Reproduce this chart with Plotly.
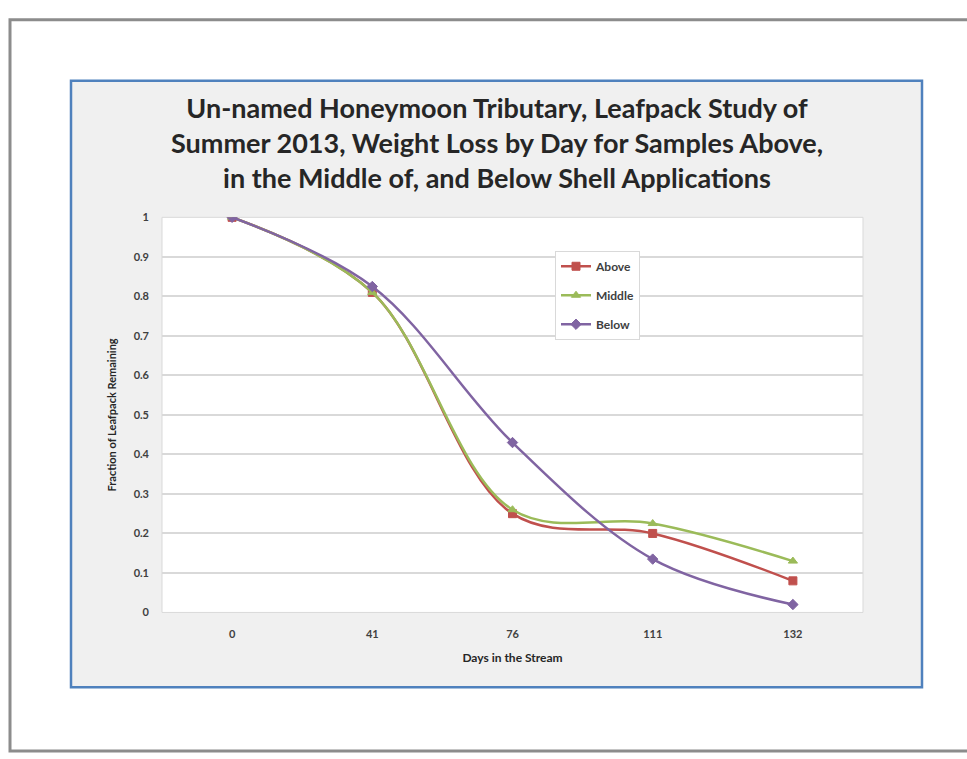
import plotly.graph_objects as go

days = ["0", "41", "76", "111", "132"]
above = [1.0, 0.81, 0.25, 0.20, 0.08]
middle = [1.0, 0.81, 0.26, 0.225, 0.13]
below = [1.0, 0.825, 0.43, 0.135, 0.02]
series_names = ["Above", "Middle", "Below"]
y_ticks = [0, 0.1, 0.2, 0.3, 0.4, 0.5, 0.6, 0.7, 0.8, 0.9, 1]
y_ticktext = ["0", "0.1", "0.2", "0.3", "0.4", "0.5", "0.6", "0.7", "0.8", "0.9", "1"]

W, H = 967, 759
FONT = "Lato"

def px(x):
    return x / W

def py(y):
    return 1 - y / H

colors = ["#C0504D", "#9BBB59", "#8064A2"]
symbols = ["square", "triangle-up", "diamond"]

fig = go.Figure()
for name, vals, c, s in zip(series_names, [above, middle, below], colors, symbols):
    fig.add_trace(go.Scatter(
        x=days, y=vals, name=name, mode="lines+markers",
        line=dict(color=c, width=2.5, shape="spline", smoothing=1.0),
        marker=dict(symbol=s, size=8, color=c, line=dict(color=c, width=1)),
        legendgroup=name,
    ))

shapes = [
    # outer gray frame
    dict(type="rect", xref="paper", yref="paper", x0=px(10), x1=px(970), y0=py(757), y1=py(13),
         line=dict(color="#8c8c8c", width=3), fillcolor="rgba(0,0,0,0)", layer="below"),
    # blue chart panel
    dict(type="rect", xref="paper", yref="paper", x0=px(71), x1=px(922), y0=py(692), y1=py(75),
         line=dict(color="#4F81BD", width=2.5), fillcolor="#F0F0F0", layer="below"),
    # plot area
    dict(type="rect", xref="paper", yref="paper", x0=px(162), x1=px(863), y0=py(616), y1=py(214),
         line=dict(color="#D9D9D9", width=1), fillcolor="#FFFFFF", layer="below"),
]

fig.update_layout(
    width=W, height=H,
    margin=dict(l=0, r=0, t=0, b=0),
    paper_bgcolor="#FFFFFF",
    plot_bgcolor="rgba(0,0,0,0)",
    shapes=shapes,
    showlegend=True,
    legend=dict(
        x=px(555), y=py(248), xanchor="left", yanchor="top",
        bgcolor="#FFFFFF", bordercolor="#D9D9D9", borderwidth=1,
        font=dict(family=FONT, size=12, color="#404040", weight="bold"),
        tracegroupgap=10, itemwidth=30,
    ),
    xaxis=dict(
        domain=[px(162), px(863)], type="category", range=[-0.5, 4.5],
        showgrid=False, zeroline=False, showline=False, ticks="",
        tickfont=dict(family=FONT, size=11, color="#404040", weight="bold"),
        ticklabelstandoff=14,
        title=dict(text="Days in the Stream", font=dict(family=FONT, size=12, color="#262626", weight="bold"),
                   standoff=14),
    ),
    yaxis=dict(
        domain=[py(616), py(214)], range=[0, 1],
        tickvals=y_ticks, ticktext=y_ticktext,
        showgrid=True, gridcolor="#D9D9D9", gridwidth=2,
        zeroline=False, showline=False, ticks="",
        tickfont=dict(family=FONT, size=11, color="#404040", weight="bold"),
        ticklabelstandoff=12,
        title=dict(text="Fraction of Leafpack Remaining", font=dict(family=FONT, size=11, color="#262626", weight="bold"),
                   standoff=14),
    ),
    annotations=[
        dict(text="Un-named Honeymoon Tributary, Leafpack Study of<br>Summer 2013, Weight Loss by Day for Samples Above,<br>in the Middle of, and Below Shell Applications",
             xref="paper", yref="paper", x=px(497), y=py(138), xanchor="center", yanchor="middle",
             showarrow=False, align="center",
             font=dict(family=FONT, size=27, color="#262626", weight="bold")),
    ],
)

fig.write_html("out.html")
